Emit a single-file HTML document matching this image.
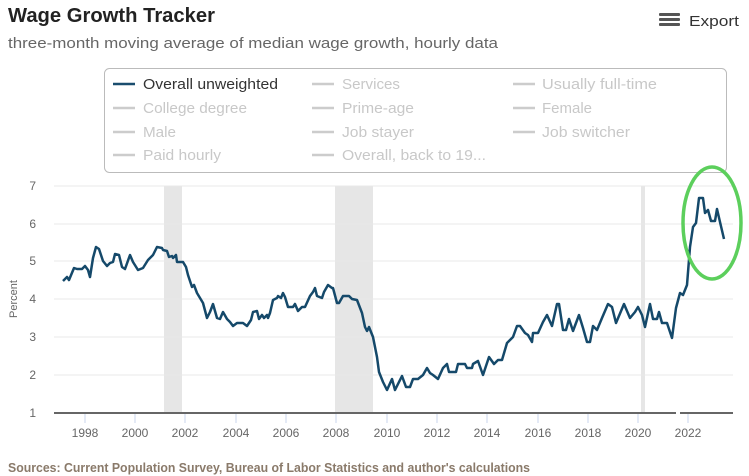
<!DOCTYPE html>
<html><head><meta charset="utf-8"><style>
html,body{margin:0;padding:0;background:#fff;}
svg{display:block;font-family:"Liberation Sans",sans-serif;}
</style></head><body>
<svg width="749" height="476" viewBox="0 0 749 476" xmlns="http://www.w3.org/2000/svg">
<text x="8" y="22" font-size="20" font-weight="bold" fill="#222" textLength="207" lengthAdjust="spacingAndGlyphs">Wage Growth Tracker</text>
<text x="8" y="48" font-size="15" fill="#666" textLength="490" lengthAdjust="spacingAndGlyphs">three-month moving average of median wage growth, hourly data</text>
<g fill="#555"><rect x="659" y="13" width="21" height="3" rx="1"/><rect x="659" y="18" width="21" height="3" rx="1"/><rect x="659" y="23" width="21" height="3" rx="1"/></g>
<text x="689" y="26" font-size="15" fill="#333" textLength="50" lengthAdjust="spacingAndGlyphs">Export</text>

<rect x="104.5" y="68.5" width="622" height="104" rx="5" fill="#fff" stroke="#bbb"/>
<g font-size="15" fill="#c8c8c8">
<line x1="113" y1="84" x2="135" y2="84" stroke="#1a4d6e" stroke-width="2.5"/>
<text x="143" y="89" fill="#333" textLength="135" lengthAdjust="spacingAndGlyphs">Overall unweighted</text>
<line x1="312" y1="84" x2="334" y2="84" stroke="#ccc" stroke-width="2.5"/>
<text x="342" y="89" textLength="58" lengthAdjust="spacingAndGlyphs">Services</text>
<line x1="513" y1="84" x2="535" y2="84" stroke="#ccc" stroke-width="2.5"/>
<text x="542" y="89" textLength="115" lengthAdjust="spacingAndGlyphs">Usually full-time</text>
<line x1="113" y1="108" x2="135" y2="108" stroke="#ccc" stroke-width="2.5"/>
<text x="143" y="113" textLength="104" lengthAdjust="spacingAndGlyphs">College degree</text>
<line x1="312" y1="108" x2="334" y2="108" stroke="#ccc" stroke-width="2.5"/>
<text x="342" y="113" textLength="72" lengthAdjust="spacingAndGlyphs">Prime-age</text>
<line x1="513" y1="108" x2="535" y2="108" stroke="#ccc" stroke-width="2.5"/>
<text x="542" y="113" textLength="50" lengthAdjust="spacingAndGlyphs">Female</text>
<line x1="113" y1="132" x2="135" y2="132" stroke="#ccc" stroke-width="2.5"/>
<text x="143" y="137" textLength="33" lengthAdjust="spacingAndGlyphs">Male</text>
<line x1="312" y1="132" x2="334" y2="132" stroke="#ccc" stroke-width="2.5"/>
<text x="342" y="137" textLength="72" lengthAdjust="spacingAndGlyphs">Job stayer</text>
<line x1="513" y1="132" x2="535" y2="132" stroke="#ccc" stroke-width="2.5"/>
<text x="542" y="137" textLength="88" lengthAdjust="spacingAndGlyphs">Job switcher</text>
<line x1="113" y1="155" x2="135" y2="155" stroke="#ccc" stroke-width="2.5"/>
<text x="143" y="160" textLength="78" lengthAdjust="spacingAndGlyphs">Paid hourly</text>
<line x1="312" y1="155" x2="334" y2="155" stroke="#ccc" stroke-width="2.5"/>
<text x="342" y="160" textLength="144" lengthAdjust="spacingAndGlyphs">Overall, back to 19...</text>
</g>

<g fill="#e6e6e6"><rect x="164" y="186" width="18" height="226"/><rect x="335" y="186" width="38" height="226"/><rect x="641" y="186" width="4" height="226"/></g>
<g stroke="#e8e8e8" stroke-width="1">
<line x1="54" y1="186" x2="733" y2="186"/><line x1="54" y1="224" x2="733" y2="224"/><line x1="54" y1="261" x2="733" y2="261"/><line x1="54" y1="299" x2="733" y2="299"/><line x1="54" y1="337" x2="733" y2="337"/><line x1="54" y1="375" x2="733" y2="375"/>
</g>
<g font-size="12" fill="#666" text-anchor="end">
<text x="36" y="190">7</text><text x="36" y="228">6</text><text x="36" y="265">5</text><text x="36" y="303">4</text><text x="36" y="341">3</text><text x="36" y="379">2</text><text x="36" y="417">1</text>
</g>
<text transform="translate(17,299) rotate(-90)" font-size="11" fill="#666" text-anchor="middle">Percent</text>
<g stroke="#c9d6ee" stroke-width="1">
<line x1="85" y1="413" x2="85" y2="423"/><line x1="135" y1="413" x2="135" y2="423"/><line x1="185" y1="413" x2="185" y2="423"/><line x1="236" y1="413" x2="236" y2="423"/><line x1="286" y1="413" x2="286" y2="423"/><line x1="336" y1="413" x2="336" y2="423"/><line x1="387" y1="413" x2="387" y2="423"/><line x1="437" y1="413" x2="437" y2="423"/><line x1="487" y1="413" x2="487" y2="423"/><line x1="538" y1="413" x2="538" y2="423"/><line x1="588" y1="413" x2="588" y2="423"/><line x1="638" y1="413" x2="638" y2="423"/><line x1="688" y1="413" x2="688" y2="423"/>
</g>
<g stroke="#666" stroke-width="2"><line x1="54" y1="413" x2="676" y2="413"/><line x1="680" y1="413" x2="733" y2="413"/></g>
<g font-size="12" fill="#666" text-anchor="middle">
<text x="85" y="437">1998</text><text x="135" y="437">2000</text><text x="185" y="437">2002</text><text x="236" y="437">2004</text><text x="286" y="437">2006</text><text x="336" y="437">2008</text><text x="387" y="437">2010</text><text x="437" y="437">2012</text><text x="487" y="437">2014</text><text x="538" y="437">2016</text><text x="588" y="437">2018</text><text x="638" y="437">2020</text><text x="688" y="437">2022</text>
</g>

<polyline fill="none" stroke="#15496a" stroke-width="2.5" stroke-linejoin="round" points="63,281 67,277 69,280 74,268 77,269 82,269 85,266 88,270 90,277 93,258 96,247 99,249 103,261 107,266 110,263 113,262 115,254 119,255 122,267 125,269 130,255 133,262 138,270 143,268 148,260 153,255 157,247 162,248 163,250 167,251 169,257 172,256 173,258 176,255 177,262 183,262 186,267 188,275 192,287 194,285 197,293 203,303 207,318 210,312 213,304 217,318 220,319 223,312 227,319 230,322 233,326 237,323 243,323 247,326 251,320 253,312 257,311 259,319 262,315 264,318 267,315 268,318 270,313 273,300 277,298 278,296 281,298 283,293 285,297 288,307 293,307 295,304 298,311 302,307 305,307 310,296 313,292 315,288 317,296 322,298 324,292 328,285 332,288 333,288 337,303 339,303 343,296 349,296 352,299 357,300 362,313 365,327 367,331 369,327 373,337 377,357 379,372 383,382 387,390 392,379 395,390 402,376 406,387 410,387 413,379 418,379 423,375 427,368 430,373 433,375 438,379 443,368 447,364 449,372 456,372 458,364 465,364 467,368 472,368 473,364 478,361 483,375 489,357 494,364 498,360 502,360 507,343 510,340 513,337 517,326 520,326 525,333 528,335 532,342 533,333 538,333 543,322 547,315 552,326 557,304 559,304 563,330 566,330 569,319 573,331 579,315 583,328 587,342 590,342 593,326 597,330 602,318 608,304 612,307 616,323 624,304 630,318 635,312 638,307 642,315 645,327 650,304 653,319 657,319 659,312 662,323 667,323 672,338 676,308 680,293 683,295 687,285 690,247 693,227 696,223 699,198 703,198 705,213 708,210 711,221 715,221 717,209 720,222 724,239"/>
<ellipse cx="712" cy="223" rx="29" ry="56" fill="none" stroke="#5ccf5c" stroke-width="3.5"/>

<text x="8" y="472" font-size="13" font-weight="bold" fill="#8a7a6a" textLength="522" lengthAdjust="spacingAndGlyphs">Sources: Current Population Survey, Bureau of Labor Statistics and author's calculations</text>
</svg>
</body></html>
